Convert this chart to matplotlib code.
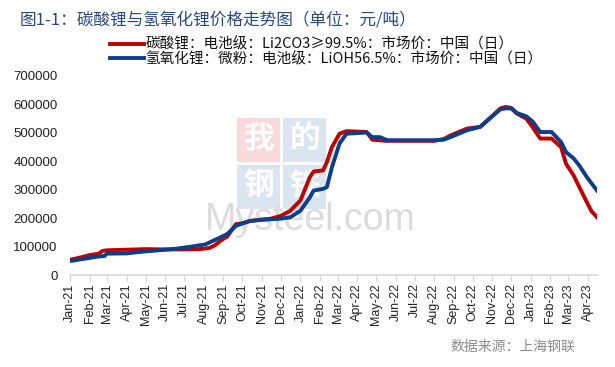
import matplotlib

matplotlib.use("Agg")
import matplotlib.dates as mdates
import matplotlib.pyplot as plt
import pandas as pd
from matplotlib.patches import Rectangle

plt.rcParams["font.family"] = ["Noto Sans CJK SC", "DejaVu Sans"]

W, H = 615, 367

li2co3_dates = [
    "2021-01-04", "2021-01-18", "2021-02-01", "2021-02-15", "2021-02-22", "2021-03-01",
    "2021-04-01", "2021-05-01", "2021-06-01", "2021-07-01", "2021-07-25", "2021-08-10",
    "2021-08-19", "2021-08-27", "2021-09-07", "2021-09-15", "2021-09-21", "2021-10-01",
    "2021-10-13", "2021-11-01", "2021-11-15", "2021-12-01", "2021-12-16", "2022-01-01",
    "2022-01-16", "2022-01-22", "2022-02-06", "2022-02-12", "2022-02-20", "2022-03-04",
    "2022-03-15", "2022-04-16", "2022-04-25", "2022-05-16", "2022-08-01", "2022-08-16",
    "2022-08-27", "2022-09-22", "2022-10-13", "2022-10-19", "2022-11-14", "2022-11-22",
    "2022-12-01", "2022-12-10", "2022-12-25", "2023-01-04", "2023-01-16", "2023-02-03",
    "2023-02-18", "2023-02-26", "2023-03-10", "2023-03-19", "2023-03-31", "2023-04-07",
    "2023-04-16",
]
li2co3_values = [
    55000, 62000, 70000, 75000, 85000, 87000,
    89000, 91000, 90000, 90000, 91000, 95000,
    105000, 120000, 135000, 160000, 179000, 182000,
    190000, 195000, 198000, 208000, 226000, 262000,
    344000, 364000, 368000, 397000, 450000, 497000,
    506000, 503000, 476000, 472000, 472000, 478000,
    491000, 515000, 521000, 533000, 586000, 591000,
    588000, 568000, 550000, 520000, 480000, 480000,
    450000, 391000, 350000, 309000, 256000, 225000,
    203000,
]

lioh_dates = [
    "2021-01-04", "2021-01-18", "2021-02-01", "2021-02-15", "2021-02-25", "2021-02-28",
    "2021-04-01", "2021-04-25", "2021-05-22", "2021-06-16", "2021-07-13", "2021-08-04",
    "2021-08-21", "2021-09-07", "2021-09-21", "2021-10-01", "2021-10-13", "2021-11-01",
    "2021-11-15", "2021-12-01", "2021-12-16", "2022-01-01", "2022-01-16", "2022-01-22",
    "2022-02-06", "2022-02-12", "2022-02-20", "2022-03-04", "2022-03-15", "2022-04-16",
    "2022-04-25", "2022-05-07", "2022-05-19", "2022-08-01", "2022-08-16", "2022-08-27",
    "2022-09-22", "2022-10-13", "2022-10-19", "2022-11-14", "2022-11-22", "2022-12-01",
    "2022-12-10", "2022-12-25", "2023-01-04", "2023-01-16", "2023-02-03", "2023-02-18",
    "2023-02-26", "2023-03-10", "2023-03-19", "2023-03-31", "2023-04-16",
]
lioh_values = [
    50000, 55000, 60000, 65000, 67000, 75000,
    76000, 82000, 87000, 92000, 100000, 108000,
    126000, 144000, 173000, 181000, 190000, 194000,
    196000, 198000, 203000, 226000, 273000, 297000,
    303000, 309000, 379000, 462000, 497000, 501000,
    485000, 485000, 474000, 474000, 476000, 485000,
    509000, 521000, 533000, 583000, 586000, 586000,
    570000, 558000, 540000, 503000, 503000, 468000,
    432000, 410000, 385000, 344000, 297000,
]

series_labels = [
    "碳酸锂：电池级：Li2CO3≥99.5%：市场价：中国（日）",
    "氢氧化锂：微粉：电池级：LiOH56.5%：市场价：中国（日）",
]
y_ticks = [0, 100000, 200000, 300000, 400000, 500000, 600000, 700000]

RED = "#C00000"
BLUE = "#0B3F8C"


def px(x, y):
    return x / W, 1 - y / H


fig = plt.figure(figsize=(W / 100, H / 100), dpi=100)
ax = fig.add_axes([70 / W, 1 - 275 / H, 527 / W, 199 / H])
ax.patch.set_alpha(0)

# watermark behind the lines
for (x0, y0, color, ch) in [(237, 118, "#f8d9dc", "我"), (283, 118, "#dbe5f1", "的"),
                            (237, 165, "#dbe5f1", "钢"), (283, 165, "#dbe5f1", "铁")]:
    fig.add_artist(Rectangle(px(x0, y0 + 44), 43 / W, 44 / H, transform=fig.transFigure,
                             color=color, zorder=-2, lw=0))
    fig.text(*px(x0 + 21.5, y0 + 21), ch, color="white", fontsize=22, fontweight="bold",
             ha="center", va="center", zorder=-1)
fig.text(*px(205, 220), "Mysteel.com", color="#dcdcdc", fontsize=27, family="Liberation Sans",
         ha="left", va="center", zorder=-1)

ax.plot(pd.to_datetime(li2co3_dates), li2co3_values, color=RED, lw=2.8, label=series_labels[0])
ax.plot(pd.to_datetime(lioh_dates), lioh_values, color=BLUE, lw=2.8, label=series_labels[1])

ax.set_xlim(pd.Timestamp("2021-01-01"), pd.Timestamp("2023-04-16"))
ax.set_ylim(0, 700000)
ax.set_yticks(y_ticks)
ax.set_yticklabels([str(v) for v in y_ticks])
ax.xaxis.set_major_locator(mdates.MonthLocator())
ax.xaxis.set_major_formatter(mdates.DateFormatter("%b-%y"))

for side in ("top", "right", "left"):
    ax.spines[side].set_visible(False)
ax.spines["bottom"].set_color("#d9d9d9")
ax.spines["bottom"].set_linewidth(1.2)
ax.tick_params(axis="x", length=4, width=1, color="#d9d9d9", pad=2, labelrotation=90,
               labelsize=9, labelcolor="#222222")
ax.tick_params(axis="y", length=0, pad=9, labelsize=9.5, labelcolor="#222222")
for lab in ax.get_xticklabels() + ax.get_yticklabels():
    lab.set_family("Liberation Sans")

fig.text(*px(20, 20), "图1-1：碳酸锂与氢氧化锂价格走势图（单位：元/吨）", fontsize=12,
         color="#284a80", ha="left", va="center")
fig.legend(loc="upper left", bbox_to_anchor=px(103, 30), frameon=False, fontsize=10.5,
           handlelength=2.3, handletextpad=0.1, labelspacing=0.0, borderpad=0,
           labelcolor="#111111")
fig.text(*px(575, 347), "数据来源：上海钢联", fontsize=10, color="#8c8c8c", ha="right", va="center")

fig.savefig("out.png", dpi=100)
